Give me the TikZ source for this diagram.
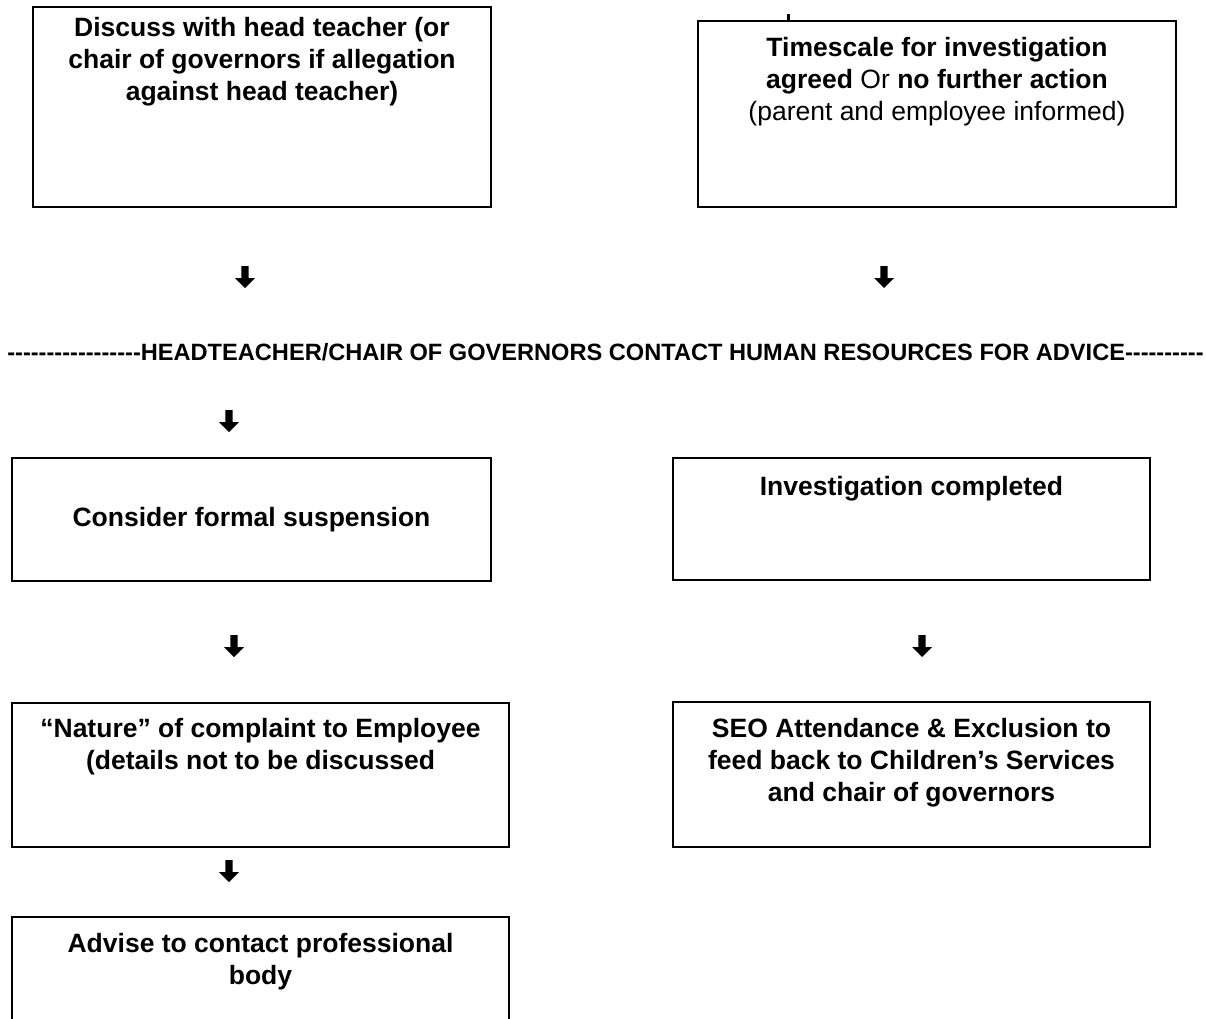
\documentclass[tikz,border=0pt]{standalone}
\usepackage{fontspec}
\setmainfont{Liberation Sans}
\usetikzlibrary{positioning}
\newcommand\hyrun[1]{\foreach \k in {1,...,#1}{-\kern0pt}}
\tikzset{ %
  ,box/.style={draw, rectangle, line width=1.6pt, inner sep=0pt}
  ,boxtxt/.style={align=center, inner sep=0pt, font=\bfseries\fontsize{26.5}{32}\selectfont}
  ,banner/.style={inner sep=0pt, font=\bfseries\fontsize{23.6}{28}\selectfont}
  ,downarr/.pic={\fill (-3.6,-11) -- (3.6,-11) -- (3.6,1) -- (10,1) -- (0,11) -- (-10,1) -- (-3.6,1) -- cycle;}
}

\begin{document}
\begin{tikzpicture}[x=1pt, y=-1pt]
      \clip (0,0) rectangle (1206,1018);
      \node[box, minimum width=458pt, minimum height=200pt] (discuss) at (262,107) {};
      \node[box, minimum width=478pt, minimum height=186pt] (timescale) at (937,114) {};
      \node[box, minimum width=479pt, minimum height=123pt] (suspend) at (251.5,519.5) {};
      \node[box, minimum width=477pt, minimum height=122pt] (completed) at (911.5,519) {};
      \node[box, minimum width=497pt, minimum height=144pt] (nature) at (260.5,775) {};
      \node[box, minimum width=477pt, minimum height=145pt] (seo) at (911.5,774.5) {};
      \node[box, minimum width=497pt, minimum height=123pt] (advise) at (260.5,978.5) {};
      \node[boxtxt, below=11pt of discuss.north] (discusstxt) {Discuss with head teacher (or\\chair of governors if allegation\\against head teacher)};
      \node[boxtxt, below=17pt of timescale.north] (timescaletxt) {Timescale for investigation\\agreed {\mdseries Or} no further action\\{\mdseries (parent and employee informed)}};
      \node[boxtxt, below=50pt of suspend.north] (suspendtxt) {Consider formal suspension};
      \node[boxtxt, below=19pt of completed.north] (completedtxt) {Investigation completed};
      \node[boxtxt, below=16pt of nature.north] (naturetxt) {“Nature” of complaint to Employee\\(details not to be discussed};
      \node[boxtxt, below=17pt of seo.north] (seotxt) {SEO Attendance \& Exclusion to\\feed back to Children’s Services\\and chair of governors};
      \node[boxtxt, below=17pt of advise.north] (advisetxt) {Advise to contact professional\\body};
      \node[banner, anchor=base] (hrline) at (605.5,360) {\hyrun{17}HEADTEACHER/CHAIR OF GOVERNORS CONTACT HUMAN RESOURCES FOR ADVICE\hyrun{10}};
      \coordinate (stub) at (788,14);
      \draw[line width=3pt] (stub) -- (stub |- timescale.north);
      \foreach \p in {(245,277),(884,277),(229,421),(234,646),(922,646),(229,871)}
        \pic at \p {downarr};
    \end{tikzpicture}
\end{document}
